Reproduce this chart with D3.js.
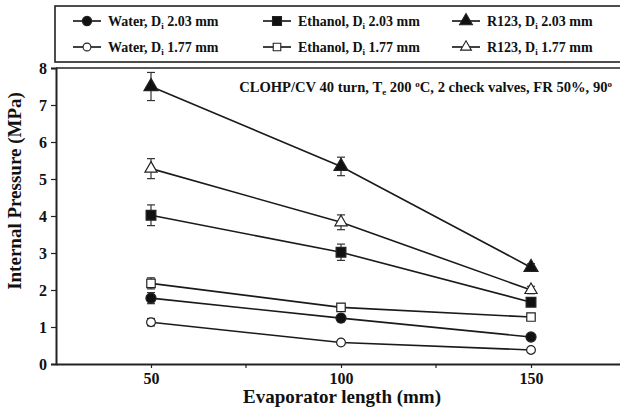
<!DOCTYPE html>
<html><head><meta charset="utf-8">
<script src="https://cdn.jsdelivr.net/npm/d3@7"></script>
<style>body{margin:0;background:#fff;} svg{display:block;}</style>
</head><body><svg id="c" width="620" height="412"></svg>
<script>
const lengths = [50, 100, 150];
const seriesNames = ["Water, D", "Ethanol, D", "R123, D", "Water, D", "Ethanol, D", "R123, D"];
const seriesDiam = ["2.03 mm", "2.03 mm", "2.03 mm", "1.77 mm", "1.77 mm", "1.77 mm"];
const seriesShape = ["circle", "square", "triangle", "circle", "square", "triangle"];
const seriesFilled = [true, true, true, false, false, false];
const waterLarge = [1.78, 1.24, 0.73];
const ethanolLarge = [4.02, 3.02, 1.67];
const r123Large = [7.50, 5.34, 2.61];
const waterSmall = [1.13, 0.58, 0.38];
const ethanolSmall = [2.18, 1.53, 1.27];
const r123Small = [5.28, 3.83, 2.00];
const errWaterLarge = [0.15, 0.10, 0.05];
const errEthanolLarge = [0.28, 0.22, 0.10];
const errR123Large = [0.38, 0.25, 0.10];
const errWaterSmall = [0.10, 0.05, 0.05];
const errEthanolSmall = [0.15, 0.10, 0.05];
const errR123Small = [0.27, 0.20, 0.10];
const yTicks = [0, 1, 2, 3, 4, 5, 6, 7, 8];
const xTicks = [50, 100, 150];
const xMinor = [75, 125];

const values = [waterLarge, ethanolLarge, r123Large, waterSmall, ethanolSmall, r123Small];
const errors = [errWaterLarge, errEthanolLarge, errR123Large, errWaterSmall, errEthanolSmall, errR123Small];

const FONT = '"Liberation Serif"';
const svg = d3.select("#c");
function txt(sel) { return sel.style("font-family", FONT).style("font-weight", "bold").attr("fill", "#111"); }

const L = 56, R = 626, T = 68, B = 364;
const x = d3.scaleLinear().domain([25, 175]).range([L, R]);
const y = d3.scaleLinear().domain([0, 8]).range([B, T]);

// legend box
svg.append("rect").attr("x", 55).attr("y", 6).attr("width", 580).attr("height", 56)
  .attr("fill", "none").attr("stroke", "#222").attr("stroke-width", 1.6);
// plot frame top line
svg.append("line").attr("x1", L).attr("x2", 625).attr("y1", T).attr("y2", T).attr("stroke", "#222").attr("stroke-width", 1.6);

// axes
const yAxis = d3.axisLeft(y).tickValues(yTicks).tickSize(5).tickPadding(4);
const gy = svg.append("g").attr("transform", `translate(${L},0)`).call(yAxis);
gy.select(".domain").attr("stroke-width", 2).attr("stroke", "#222");
gy.selectAll(".tick line").attr("stroke", "#222").attr("stroke-width", 1.2);
txt(gy.selectAll(".tick text")).style("font-size", "16px");

const xAxis = d3.axisBottom(x).tickValues(xTicks).tickSize(4).tickPadding(5).tickSizeOuter(0);
const gx = svg.append("g").attr("transform", `translate(0,${B})`).call(xAxis);
gx.select(".domain").attr("stroke-width", 2).attr("stroke", "#222");
gx.selectAll(".tick line").attr("stroke", "#222").attr("stroke-width", 1.2);
txt(gx.selectAll(".tick text")).style("font-size", "16px");
svg.append("g").selectAll("line").data(xMinor).join("line")
  .attr("x1", d => x(d)).attr("x2", d => x(d)).attr("y1", B).attr("y2", B + 4)
  .attr("stroke", "#222").attr("stroke-width", 1.2);

// axis titles
txt(svg.append("text")).attr("x", 342).attr("y", 403).attr("text-anchor", "middle").style("font-size", "19px").text("Evaporator length (mm)");
txt(svg.append("text")).attr("transform", "translate(21,191) rotate(-90)").attr("text-anchor", "middle").style("font-size", "19px").text("Internal Pressure (MPa)");

// annotation
const ann = txt(svg.append("text")).attr("x", 612).attr("y", 92).attr("text-anchor", "end").style("font-size", "14.6px");
ann.append("tspan").text("CLOHP/CV 40 turn, T");
ann.append("tspan").style("font-size", "9px").attr("dy", 3).text("e");
ann.append("tspan").attr("dy", -3).text(" 200 ");
ann.append("tspan").style("font-size", "9px").attr("dy", -5).text("o");
ann.append("tspan").attr("dy", 5).text("C, 2 check valves, FR 50%, 90");
ann.append("tspan").style("font-size", "9px").attr("dy", -5).text("o");

function symbolPath(shape, s) {
  const t = shape === "circle" ? d3.symbolCircle : shape === "square" ? d3.symbolSquare : d3.symbolTriangle;
  return d3.symbol().type(t).size(s)();
}
const sizes = {circle: 80, square: 95, triangle: 85};

// series
const line = d3.line().x((d, i) => x(lengths[i])).y(d => y(d));
values.forEach((vals, k) => {
  const g = svg.append("g");
  g.append("path").attr("d", line(vals)).attr("fill", "none").attr("stroke", "#1a1a1a").attr("stroke-width", 1.6);
  vals.forEach((v, i) => {
    const e = errors[k][i];
    const cx = x(lengths[i]);
    g.append("line").attr("x1", cx).attr("x2", cx).attr("y1", y(v - e)).attr("y2", y(v + e)).attr("stroke", "#333").attr("stroke-width", 1.2);
    [v - e, v + e].forEach(w => g.append("line").attr("x1", cx - 4).attr("x2", cx + 4).attr("y1", y(w)).attr("y2", y(w)).attr("stroke", "#333").attr("stroke-width", 1.2));
  });
  vals.forEach((v, i) => {
    g.append("path").attr("d", symbolPath(seriesShape[k], sizes[seriesShape[k]] * (seriesFilled[k] ? 1 : 0.75)))
      .attr("transform", `translate(${x(lengths[i])},${y(v)})`)
      .attr("fill", seriesFilled[k] ? "#111" : "#fff").attr("stroke", "#222").attr("stroke-width", 1.2);
  });
});

// legend
const colX = [73, 263, 452];
const rowY = [21, 47];
seriesNames.forEach((name, k) => {
  const cx = colX[k % 3], cy = rowY[Math.floor(k / 3)];
  const g = svg.append("g");
  g.append("line").attr("x1", cx).attr("x2", cx + 28).attr("y1", cy).attr("y2", cy).attr("stroke", "#111").attr("stroke-width", 1.6);
  g.append("path").attr("d", symbolPath(seriesShape[k], sizes[seriesShape[k]] * (seriesFilled[k] ? 0.85 : 0.6)))
    .attr("transform", `translate(${cx + 14},${cy})`)
    .attr("fill", seriesFilled[k] ? "#111" : "#fff").attr("stroke", "#222").attr("stroke-width", 1.1);
  const t = txt(g.append("text")).attr("x", cx + 35).attr("y", cy + 5).style("font-size", "14px");
  t.append("tspan").text(name);
  t.append("tspan").style("font-size", "9px").attr("dy", 3).text("i");
  t.append("tspan").attr("dy", -3).text(" " + seriesDiam[k]);
});
</script></body></html>
